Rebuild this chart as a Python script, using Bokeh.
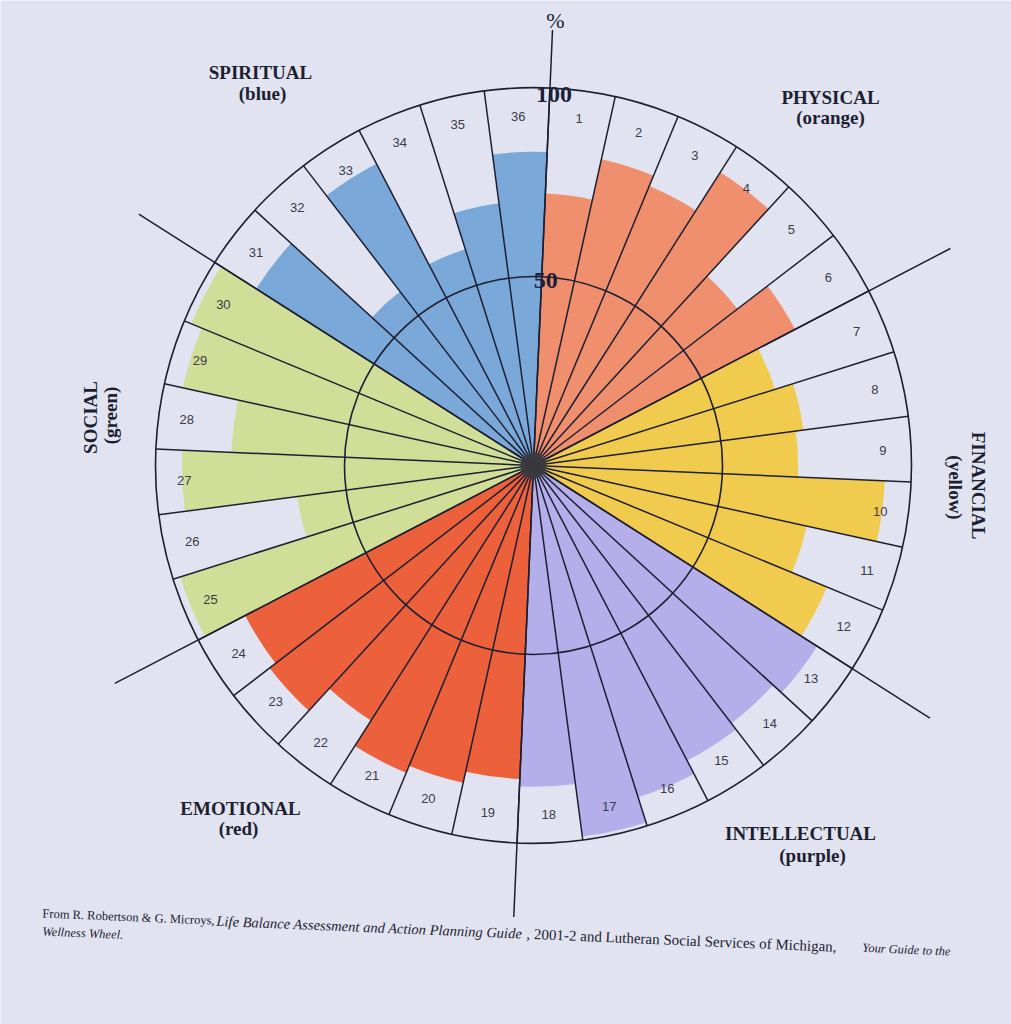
import math
import numpy as np
from bokeh.plotting import figure
from bokeh.models import Range1d, ColumnDataSource
from bokeh.core.properties import value
from bokeh.embed import file_html
from bokeh.resources import INLINE

# ---------------- data ----------------
segments = list(range(1, 37))
group_names = ["PHYSICAL", "FINANCIAL", "INTELLECTUAL", "EMOTIONAL", "SOCIAL", "SPIRITUAL"]
group_colour_names = ["(orange)", "(yellow)", "(purple)", "(red)", "(green)", "(blue)"]
physical = [72, 83, 80, 92, 68, 78]
financial = [67, 72, 70, 93, 74, 84]
intellectual = [89, 86, 88, 92, 99, 85]
emotional = [83, 86, 88, 80, 88, 86]
social = [98, 63, 93, 80, 95, 98]
spiritual = [87, 58, 90, 60, 70, 83]
ring_ticks = [50, 100]
axis_unit = "%"
source_note = [
    ("From R. Robertson & G. Microys,", "normal"),
    ("Life Balance Assessment and Action Planning Guide", "italic"),
    (", 2001-2 and Lutheran Social Services of Michigan,", "normal"),
    ("Your Guide to the", "italic"),
]
source_note_2 = "Wellness Wheel."

# ---------------- style ----------------
fills = ["#f08a66", "#f1c943", "#b1acea", "#ec5a30", "#cfdd92", "#74a4d6"]
BG = "#e1e4f0"
INK = "#1d1f30"
R = 378.0
ROT = -2.5  # photo tilt, degrees

values = physical + financial + intellectual + emotional + social + spiritual
colors = [fills[(k - 1) // 6] for k in segments]
start = [math.radians(90 - 10 * k + ROT) for k in segments]
end = [math.radians(90 - 10 * (k - 1) + ROT) for k in segments]
radius = [v / 100.0 * R for v in values]
src = ColumnDataSource(dict(seg=segments, v=values, r=radius, start=start, end=end, color=colors))

p = figure(width=1011, height=1024, output_backend="svg", toolbar_location=None,
           x_range=Range1d(-533, 478), y_range=Range1d(-559, 465),
           min_border=0, background_fill_color=BG, border_fill_color=BG)
p.axis.visible = False
p.grid.visible = False
p.outline_line_color = None

# coloured wedges
p.wedge(x=0, y=0, radius="r", start_angle="start", end_angle="end",
        fill_color="color", fill_alpha=0.95, line_color=None, source=src)

# rings (50 % and 100 %)
p.circle(x=[0, 0], y=[0, 0], radius=[t / 100.0 * R for t in ring_ticks],
         fill_color=None, line_color=INK, line_width=1.6)

# radial boundaries
th = [math.radians(90 - 10 * k + ROT) for k in range(36)]
p.segment(x0=[0] * 36, y0=[0] * 36, x1=[R * math.cos(t) for t in th],
          y1=[R * math.sin(t) for t in th], line_color=INK, line_width=1.5)

# extended group boundary lines
ext_ang = [90, 30, 330, 270, 210, 150]
ext_len = [436, 470, 470, 452, 472, 468]
p.segment(x0=[0] * 6, y0=[0] * 6,
          x1=[L * math.cos(math.radians(a + ROT)) for a, L in zip(ext_ang, ext_len)],
          y1=[L * math.sin(math.radians(a + ROT)) for a, L in zip(ext_ang, ext_len)],
          line_color=INK, line_width=1.5)

# hub
p.scatter(x=[0], y=[0], size=26, fill_color="#3b3b40", line_color=None, fill_alpha=0.9)

# segment numbers
mid = [math.radians(90 - 10 * k + 5 + ROT) for k in segments]
lr = 0.925 * R
p.text(x=[lr * math.cos(a) for a in mid], y=[lr * math.sin(a) for a in mid],
       text=[str(k) for k in segments], text_align="center", text_baseline="middle",
       text_font=value("Liberation Sans"), text_font_size="13px", text_color="#3a3b4a")

# ring tick labels
va = math.radians(90 + ROT)
p.text(x=[t / 100.0 * R * math.cos(va) + 4 for t in ring_ticks],
       y=[t / 100.0 * R * math.sin(va) * 0.982 for t in ring_ticks],
       text=[str(t) for t in ring_ticks], text_align="center", text_baseline="middle",
       text_font=value("Liberation Serif"), text_font_style="bold",
       text_font_size="24px", text_color="#1c2038")
p.text(x=[22], y=[445], text=[axis_unit], text_align="center", text_baseline="middle",
       text_font=value("Liberation Serif"), text_font_size="22px", text_color=INK)

# group titles
gx = [297, 445, 267, -293, -443, -273]
gy = [368, -20, -368, -343, 48, 393]
gx2 = [297, 422, 279, -295, -423, -271]
gy2 = [348, -22, -390, -363, 50, 372]
ga = [0, -math.pi / 2, 0, 0, math.pi / 2, 0]
p.text(x=gx, y=gy, text=group_names, angle=ga, text_align="center", text_baseline="middle",
       text_font=value("Liberation Serif"), text_font_style="bold",
       text_font_size="19px", text_color=INK)
p.text(x=gx2, y=gy2, text=group_colour_names, angle=ga, text_align="center",
       text_baseline="middle", text_font=value("Liberation Serif"), text_font_style="bold",
       text_font_size="19px", text_color=INK)

# source note (slightly tilted like the photographed page)
tilt = -math.radians(2.4)
x0, y0 = 42 - 533, 465 - 913
piece_x = [42, 216, 526, 862]
piece_size = ["12.5px", "14.5px", "15px", "12.5px"]
for (txt, sty), px, fs in zip(source_note, piece_x, piece_size):
    dx = px - 42
    p.text(x=[x0 + dx], y=[y0 + dx * math.tan(tilt)], text=[txt], angle=tilt,
           text_align="left", text_baseline="middle",
           text_font=value("Liberation Serif"), text_font_style=sty,
           text_font_size=fs, text_color="#1f2130")
p.text(x=[x0], y=[465 - 931], text=[source_note_2], angle=tilt, text_align="left",
       text_baseline="middle", text_font=value("Liberation Serif"), text_font_style="italic",
       text_font_size="12.5px", text_color="#1f2130")

open("out.html", "w").write(file_html(p, INLINE))
